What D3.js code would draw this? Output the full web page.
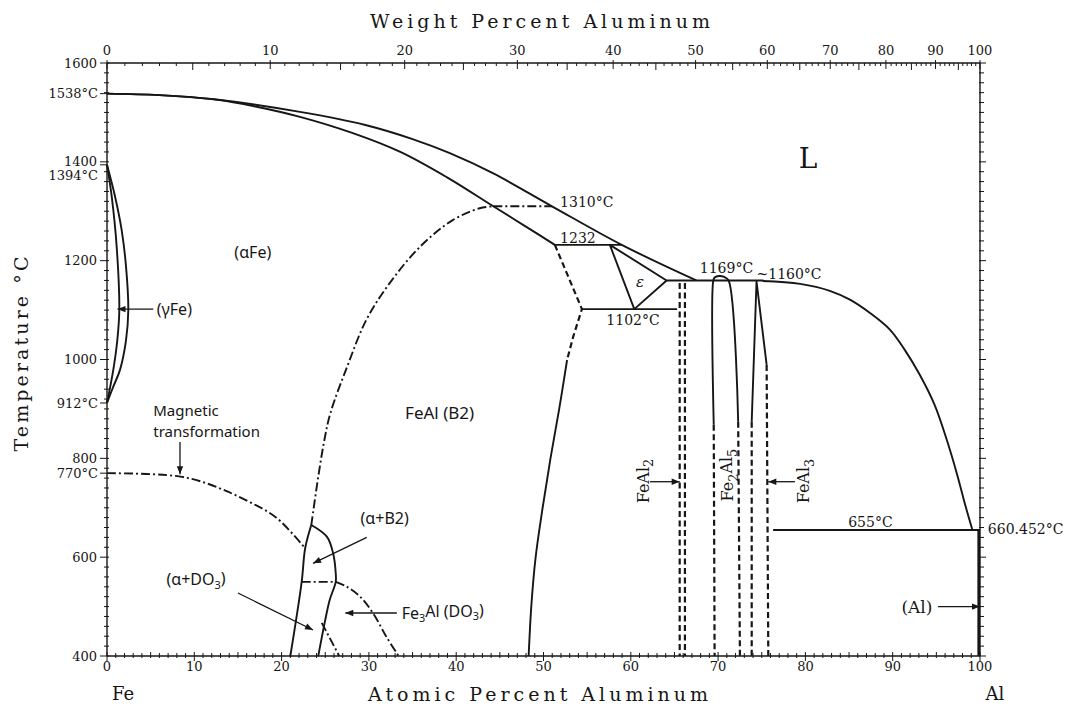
<!DOCTYPE html>
<html>
<head>
<meta charset="utf-8">
<script src="https://cdn.jsdelivr.net/npm/d3@7"></script>
<style>
  html, body { margin: 0; padding: 0; background: #fff; }
  svg { display: block; }
</style>
</head>
<body>
<svg id="chart" width="1078" height="708"></svg>
<script>
// ---------- Fe–Al binary phase diagram ----------

// Axis ticks and labels
const atomicTicks = d3.range(0, 101, 10);          // atomic percent Al (bottom)
const weightTicks = d3.range(0, 101, 10);          // weight percent Al (top)
const tempTicks   = [400, 600, 800, 1000, 1200, 1400, 1600];
const tempMarks   = [
  { t: 1538, label: "1538°C", dy: 0 },
  { t: 1394, label: "1394°C", dy: 11 },
  { t: 912,  label: "912°C",  dy: 0 },
  { t: 770,  label: "770°C",  dy: 0 }
];

// Phase boundaries, [atomic % Al, °C]
const liquidusFe   = [[0,1538],[6,1535],[12.5,1526],[22.1,1501],[29.7,1474],[35,1446],[39.2,1418],[44.2,1377],[50.97,1310],[58.96,1232],[67.5,1160]];
const liquidusAl   = [[75.1,1159],[79.4,1153],[82.8,1139],[85.1,1121],[87.4,1094],[89.7,1060],[91.4,1019],[93.1,969],[94.8,908],[96.2,837],[97.4,766],[98.3,706],[99.1,657]];
const solidusFe    = [[0,1538],[6,1535],[12.5,1526],[17,1512],[22.1,1491],[28,1459],[33.6,1420],[39,1368],[44.25,1310],[47.8,1271],[51.3,1232]];
const gammaOuter   = [[0,1394],[0.92,1330],[1.68,1262],[2.18,1188],[2.44,1100],[2.18,1039],[1.49,979],[0.72,945],[0,912]];
const gammaInner   = [[0,1394],[0.54,1330],[1.11,1228],[1.41,1100],[1.18,1039],[0.72,979],[0,912]];
const b2EdgeDashed = [[51.3,1232],[54.4,1102],[53.4,1046],[52.7,999]];
const b2EdgeSolid  = [[52.7,999],[51.8,900],[50.8,800],[49.9,700],[49.1,600],[48.6,500],[48.3,400]];
const epsilonField = [[57.6,1232],[64.1,1160],[60.4,1102],[57.6,1232]];
const line1232     = [[51.3,1232],[58.96,1232]];
const line1102     = [[54.4,1102],[65.3,1102]];
const line1160     = [[64.1,1160],[75.2,1160]];
const line1310     = [[44.25,1310],[50.97,1310]];
const line655      = [[76.3,655],[100,655]];
const alSolvus     = [[99.85,655],[99.85,400]];
const feAl2Left    = [[65.6,1155],[65.6,400]];
const feAl2Right   = [[66.2,1155],[66.2,400]];
const fe2Al5Solid  = [[69.5,868],[69.45,1160],[69.6,1166],[70.1,1169],[70.7,1167],[71.2,1160],[72.3,874]];
const fe2Al5LeftD  = [[69.5,868],[69.6,400]];
const fe2Al5RightD = [[72.3,874],[72.5,400]];
const feAl3Solid   = [[73.85,874],[74.4,1158],[75.56,989]];
const feAl3LeftD   = [[73.85,874],[73.85,400]];
const feAl3RightD  = [[75.56,989],[75.75,400]];
const orderA2B2    = [[23.4,665],[24.2,763],[24.9,837],[25.6,892],[27.5,985],[29.7,1080],[32.4,1155],[35.85,1228],[39.6,1282],[42.7,1306],[44.25,1310]];
const magneticTc   = [[0,770],[5,768],[8.4,763],[10.8,753],[13.5,735],[16.4,711],[19.4,680],[22.7,618]];
const magneticDO3  = [[24.6,467],[26.6,400]];
const alphaB2Left  = [[23.4,665],[22.7,618],[22.3,550],[21.0,400]];
const alphaB2Right = [[23.4,665],[25.2,641],[25.9,608],[26.2,568],[26.2,550],[25.5,513],[25.0,473],[24.2,400]];
const b2DO3Flat    = [[22.3,550],[26.2,550]];
const b2DO3Curve   = [[26.2,550],[27.5,540],[29.0,520],[30.5,486],[32.0,439],[33.4,400]];

// Annotations, anchored in [atomic % Al, °C]
const sansLabels = [
  { parts: [["(γFe)"]], at: 5.7, t: 1102, anchor: "start", size: 16 },
  { parts: [["(αFe)"]], at: 16.7, t: 1217, anchor: "middle", size: 16 },
  { parts: [["FeAl (B2)"]], at: 38.1, t: 892, anchor: "middle", size: 17 },
  { parts: [["Magnetic"]], at: 5.3, t: 896, anchor: "start", size: 15 },
  { parts: [["transformation"]], at: 5.3, t: 853, anchor: "start", size: 15 },
  { parts: [["(α+DO"],["3",1],[")"]], at: 10.2, t: 554, anchor: "middle", size: 16 },
  { parts: [["(α+B2)"]], at: 31.8, t: 679, anchor: "middle", size: 16 },
  { parts: [["Fe"],["3",1],["Al (DO"],["3",1],[")"]], at: 33.75, t: 487, anchor: "start", size: 16 }
];
const serifLabels = [
  { parts: [["1310°C"]], at: 51.9, t: 1319, anchor: "start", size: 14 },
  { parts: [["1232"]], at: 51.9, t: 1246, anchor: "start", size: 14 },
  { parts: [["1102°C"]], at: 57.2, t: 1080, anchor: "start", size: 14 },
  { parts: [["1169°C"]], at: 67.9, t: 1185, anchor: "start", size: 14 },
  { parts: [["~1160°C"]], at: 74.4, t: 1172, anchor: "start", size: 14 },
  { parts: [["655°C"]], at: 84.9, t: 671, anchor: "start", size: 14 },
  { parts: [["660.452°C"]], at: 100.9, t: 656, anchor: "start", size: 14 },
  { parts: [["(Al)"]], at: 91.0, t: 500, anchor: "start", size: 17 },
  { parts: [["ε"]], at: 61.05, t: 1157, anchor: "middle", size: 15, italic: true },
  { parts: [["L"]], at: 80.3, t: 1408, anchor: "middle", size: 28 }
];
const compoundLabels = [
  { parts: [["FeAl"],["2",1]], at: 61.4, t: 754 },
  { parts: [["Fe"],["2",1],["Al"],["5",1]], at: 71.1, t: 766 },
  { parts: [["FeAl"],["3",1]], at: 79.8, t: 754 }
];
const arrows = [
  { from: [5.3,1102],  to: [1.2,1102] },
  { from: [8.36,833],  to: [8.36,768] },
  { from: [15.0,527.5], to: [23.6,452.6] },
  { from: [29.75,640], to: [23.6,587.6] },
  { from: [33.2,487],  to: [27.3,487] },
  { from: [62.2,752.7], to: [65.6,752.7] },
  { from: [78.8,752.7], to: [75.75,752.7] },
  { from: [95.2,500],  to: [100,500] }
];

// ---------- scales ----------
const svg = d3.select("#chart");
const x = d3.scaleLinear().domain([0, 100]).range([107, 980]);
const y = d3.scaleLinear().domain([400, 1600]).range([656, 63]);

// weight % Al -> atomic % Al (Al 26.982, Fe 55.845)
function wtToAt(w) {
  const a = w / 26.982, f = (100 - w) / 55.845;
  return 100 * a / (a + f);
}

const ink = "#161616";
const serif = "'DejaVu Serif', 'Liberation Serif', serif";
const sans = "'Noto Sans', 'DejaVu Sans', sans-serif";

const defs = svg.append("defs");
defs.append("marker")
  .attr("id", "head").attr("viewBox", "0 0 10 10")
  .attr("refX", 10).attr("refY", 5)
  .attr("markerWidth", 9).attr("markerHeight", 8)
  .attr("markerUnits", "userSpaceOnUse").attr("orient", "auto")
  .append("path").attr("d", "M0,1 L10,5 L0,9 Z").attr("fill", ink);

// ---------- frame and ticks ----------
const axes = svg.append("g").attr("stroke", ink).attr("fill", "none");
axes.append("line").attr("x1", x(0)).attr("x2", x(100)).attr("y1", y(400)).attr("y2", y(400)).attr("stroke-width", 1.4);
axes.append("line").attr("x1", x(0)).attr("x2", x(100)).attr("y1", y(1600)).attr("y2", y(1600)).attr("stroke-width", 1.4);
axes.append("line").attr("x1", x(0)).attr("x2", x(0)).attr("y1", y(400)).attr("y2", y(1600)).attr("stroke-width", 1.4);
axes.append("line").attr("x1", x(100)).attr("x2", x(100)).attr("y1", y(400)).attr("y2", y(1600)).attr("stroke-width", 1.4);

// bottom: every 1 at.%
d3.range(0, 101, 1).forEach(v => {
  const major = v % 10 === 0, mid = v % 5 === 0;
  axes.append("line").attr("x1", x(v)).attr("x2", x(v))
    .attr("y1", y(400) - (major ? 4 : mid ? 4 : 3))
    .attr("y2", y(400) + (major ? 5 : 2)).attr("stroke-width", 1);
});
// top: every 1 wt.%
d3.range(0, 101, 1).forEach(w => {
  const major = w % 10 === 0, mid = w % 5 === 0;
  axes.append("line").attr("x1", x(wtToAt(w))).attr("x2", x(wtToAt(w)))
    .attr("y1", y(1600) - (major ? 3 : 0))
    .attr("y2", y(1600) + (major ? 6 : mid ? 7 : 3)).attr("stroke-width", 1);
});
// left and right: every 20 °C
d3.range(400, 1601, 20).forEach(t => {
  const major = t % 200 === 0;
  axes.append("line").attr("x1", x(0) - (major ? 7 : 3)).attr("x2", x(0) + 2)
    .attr("y1", y(t)).attr("y2", y(t)).attr("stroke-width", 1);
  axes.append("line").attr("x1", x(100) - 1).attr("x2", x(100) + (major ? 6 : 4))
    .attr("y1", y(t)).attr("y2", y(t)).attr("stroke-width", 1);
});
tempMarks.forEach(m => {
  axes.append("line").attr("x1", x(0) - 7).attr("x2", x(0)).attr("y1", y(m.t)).attr("y2", y(m.t)).attr("stroke-width", 1);
});

const labels = svg.append("g").attr("fill", ink);
atomicTicks.forEach(v => {
  labels.append("text").attr("x", x(v)).attr("y", y(400) + 15)
    .attr("text-anchor", "middle").attr("font-family", serif).attr("font-size", 13).text(v);
});
weightTicks.forEach(w => {
  labels.append("text").attr("x", x(wtToAt(w))).attr("y", y(1600) - 8)
    .attr("text-anchor", "middle").attr("font-family", serif).attr("font-size", 13).text(w);
});
tempTicks.forEach(t => {
  labels.append("text").attr("x", x(0) - 10).attr("y", y(t)).attr("dy", "0.35em")
    .attr("text-anchor", "end").attr("font-family", serif).attr("font-size", 13).text(t);
});
tempMarks.forEach(m => {
  labels.append("text").attr("x", x(0) - 9).attr("y", y(m.t) + m.dy).attr("dy", "0.35em")
    .attr("text-anchor", "end").attr("font-family", serif).attr("font-size", 13).text(m.label);
});

// axis titles
labels.append("text").attr("x", 540).attr("y", 28).attr("text-anchor", "middle")
  .attr("font-family", serif).attr("font-size", 19)
  .attr("textLength", 340).attr("lengthAdjust", "spacing").text("Weight Percent Aluminum");
labels.append("text").attr("x", 538).attr("y", 701).attr("text-anchor", "middle")
  .attr("font-family", serif).attr("font-size", 19)
  .attr("textLength", 340).attr("lengthAdjust", "spacing").text("Atomic Percent Aluminum");
labels.append("text").attr("transform", "translate(28,354) rotate(-90)").attr("text-anchor", "middle")
  .attr("font-family", serif).attr("font-size", 19)
  .attr("textLength", 195).attr("lengthAdjust", "spacing").text("Temperature °C");
labels.append("text").attr("x", x(0) + 16).attr("y", 700).attr("text-anchor", "middle")
  .attr("font-family", serif).attr("font-size", 18).text("Fe");
labels.append("text").attr("x", x(100) + 15).attr("y", 700).attr("text-anchor", "middle")
  .attr("font-family", serif).attr("font-size", 18).text("Al");

// ---------- phase boundaries ----------
const smooth = d3.line().x(d => x(d[0])).y(d => y(d[1])).curve(d3.curveCatmullRom.alpha(0.5));
const straight = d3.line().x(d => x(d[0])).y(d => y(d[1]));

const SOLID = null, DASH = "6,3.5", DASHDOT = "9,3,2,3";
const boundaries = [
  [liquidusFe, smooth, SOLID], [liquidusAl, smooth, SOLID], [solidusFe, smooth, SOLID],
  [gammaOuter, smooth, SOLID], [gammaInner, smooth, SOLID],
  [b2EdgeDashed, straight, DASH], [b2EdgeSolid, smooth, SOLID],
  [epsilonField, straight, SOLID], [line1232, straight, SOLID], [line1102, straight, SOLID],
  [line1160, straight, SOLID], [line1310, straight, DASHDOT], [line655, straight, SOLID],
  [feAl2Left, straight, DASH], [feAl2Right, straight, DASH],
  [fe2Al5Solid, smooth, SOLID], [fe2Al5LeftD, straight, DASH], [fe2Al5RightD, straight, DASH],
  [feAl3Solid, straight, SOLID], [feAl3LeftD, straight, DASH], [feAl3RightD, straight, DASH],
  [orderA2B2, smooth, DASHDOT], [magneticTc, smooth, DASHDOT], [magneticDO3, straight, DASHDOT],
  [alphaB2Left, smooth, SOLID], [alphaB2Right, smooth, SOLID],
  [b2DO3Flat, straight, DASHDOT], [b2DO3Curve, smooth, DASHDOT]
];
const phase = svg.append("g").attr("fill", "none").attr("stroke", ink)
  .attr("stroke-linejoin", "round");
boundaries.forEach(([pts, gen, dash]) => {
  phase.append("path").attr("d", gen(pts))
    .attr("stroke-width", dash === DASH ? 2.2 : 1.9)
    .attr("stroke-dasharray", dash);
});
phase.append("path").attr("d", straight(alSolvus)).attr("stroke-width", 2.6);

// ---------- annotations ----------
function addText(g, d, family) {
  const t = g.append("text")
    .attr("x", x(d.at)).attr("y", y(d.t)).attr("dy", "0.35em")
    .attr("text-anchor", d.anchor).attr("font-family", family)
    .attr("font-size", d.size).attr("fill", ink);
  if (d.italic) t.attr("font-style", "italic");
  let shifted = false;
  d.parts.forEach(([s, sub]) => {
    const ts = t.append("tspan").text(s);
    if (sub && !shifted) { ts.attr("dy", "0.3em").attr("font-size", "0.68em"); shifted = true; }
    else if (sub) { ts.attr("font-size", "0.68em"); }
    else if (shifted) { ts.attr("dy", "-0.3em"); shifted = false; }
  });
  return t;
}
const notes = svg.append("g");
sansLabels.forEach(d => addText(notes, d, sans));
serifLabels.forEach(d => addText(notes, d, serif));

compoundLabels.forEach(d => {
  const t = notes.append("text")
    .attr("transform", `translate(${x(d.at)},${y(d.t)}) rotate(-90)`)
    .attr("text-anchor", "middle").attr("dy", "0.35em")
    .attr("font-family", serif).attr("font-size", 16).attr("fill", ink);
  let shifted = false;
  d.parts.forEach(([s, sub]) => {
    const ts = t.append("tspan").text(s);
    if (sub) { ts.attr("dy", "0.35em").attr("font-size", "0.8em"); shifted = true; }
    else if (shifted) { ts.attr("dy", "-0.35em"); shifted = false; }
  });
});

arrows.forEach(a => {
  notes.append("line")
    .attr("x1", x(a.from[0])).attr("y1", y(a.from[1]))
    .attr("x2", x(a.to[0])).attr("y2", y(a.to[1]))
    .attr("stroke", ink).attr("stroke-width", 1.3)
    .attr("marker-end", "url(#head)");
});
</script>
</body>
</html>
